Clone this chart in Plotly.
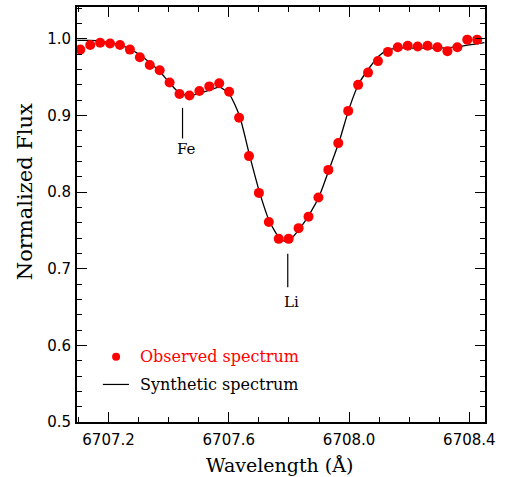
import plotly.graph_objects as go

# Observed spectrum (wavelength in Angstrom, normalized flux)
obs_wave = [6707.106, 6707.139, 6707.172, 6707.205, 6707.238, 6707.271, 6707.304,
            6707.337, 6707.370, 6707.403, 6707.436, 6707.469, 6707.502, 6707.535,
            6707.568, 6707.601, 6707.634, 6707.667, 6707.700, 6707.733, 6707.766,
            6707.799, 6707.832, 6707.865, 6707.898, 6707.931, 6707.964, 6707.997,
            6708.030, 6708.063, 6708.096, 6708.129, 6708.162, 6708.195, 6708.228,
            6708.261, 6708.294, 6708.327, 6708.360, 6708.393, 6708.426]
obs_flux = [0.986, 0.992, 0.995, 0.994, 0.992, 0.986, 0.976, 0.966, 0.959, 0.943,
            0.928, 0.926, 0.932, 0.938, 0.942, 0.931, 0.897, 0.847, 0.799, 0.761,
            0.739, 0.739, 0.753, 0.768, 0.793, 0.829, 0.864, 0.906, 0.940, 0.956,
            0.971, 0.983, 0.989, 0.991, 0.990, 0.991, 0.989, 0.984, 0.989, 0.999,
            0.999]

# Synthetic spectrum
syn_wave = [6707.096, 6707.139, 6707.172, 6707.205, 6707.238, 6707.271, 6707.304,
            6707.338, 6707.371, 6707.404, 6707.437, 6707.470, 6707.503, 6707.536,
            6707.570, 6707.603, 6707.636, 6707.669, 6707.702, 6707.735, 6707.768,
            6707.785, 6707.802, 6707.835, 6707.868, 6707.901, 6707.934, 6707.967,
            6708.000, 6708.033, 6708.067, 6708.100, 6708.133, 6708.166, 6708.232,
            6708.299, 6708.365, 6708.450]
syn_flux = [0.998, 0.998, 0.997, 0.995, 0.992, 0.987, 0.979, 0.969, 0.957, 0.942,
            0.929, 0.926, 0.929, 0.933, 0.937, 0.927, 0.899, 0.848, 0.800, 0.762,
            0.740, 0.736, 0.737, 0.752, 0.771, 0.795, 0.830, 0.866, 0.909, 0.942,
            0.962, 0.978, 0.986, 0.988, 0.988, 0.988, 0.990, 0.995]

# Line identifications
line_names = ["Fe", "Li"]
line_wave = [6707.446, 6707.796]

SERIF = "DejaVu Serif"
SANS = "DejaVu Sans"

fig = go.Figure()
fig.add_trace(go.Scatter(x=syn_wave, y=syn_flux, mode="lines",
                         line=dict(color="black", width=1.3, shape="spline", smoothing=0.6),
                         showlegend=False, hoverinfo="skip"))
fig.add_trace(go.Scatter(x=obs_wave, y=obs_flux, mode="markers",
                         marker=dict(color="#ff0000", size=10, line=dict(width=0)),
                         showlegend=False))

axis_common = dict(showline=True, linecolor="black", linewidth=2, mirror="allticks",
                   ticks="inside", ticklen=10, tickwidth=1.3, tickcolor="black",
                   showgrid=False, zeroline=False,
                   tickfont=dict(family=SANS, size=15, color="black"))

fig.update_xaxes(range=[6707.095, 6708.452], tick0=6707.2, dtick=0.4, tickformat=".1f",
                 ticklabelstandoff=3,
                 minor=dict(dtick=0.1, ticklen=5, ticks="inside", tickwidth=1.3, tickcolor="black"),
                 **axis_common)
fig.update_yaxes(range=[0.5, 1.0416], tick0=0.5, dtick=0.1, tickformat=".1f",
                 ticklabelstandoff=1,
                 minor=dict(dtick=0.02, ticklen=5, ticks="inside", tickwidth=1.3, tickcolor="black"),
                 **axis_common)

shapes = []
annotations = []
# line markers
shapes.append(dict(type="line", xref="x", yref="y", x0=line_wave[0], x1=line_wave[0],
                   y0=0.870, y1=0.910, line=dict(color="black", width=1.2)))
annotations.append(dict(x=line_wave[0] + 0.013, y=0.856, xref="x", yref="y", text=line_names[0],
                        showarrow=False, font=dict(family=SERIF, size=15, color="black")))
shapes.append(dict(type="line", xref="x", yref="y", x0=line_wave[1], x1=line_wave[1],
                   y0=0.676, y1=0.7195, line=dict(color="black", width=1.2)))
annotations.append(dict(x=line_wave[1] + 0.014, y=0.656, xref="x", yref="y", text=line_names[1],
                        showarrow=False, font=dict(family=SERIF, size=15, color="black")))

# legend
shapes.append(dict(type="circle", xref="x", yref="y", xsizemode="pixel", ysizemode="pixel",
                   xanchor=6707.225, yanchor=0.585, x0=-4, x1=4, y0=-4, y1=4,
                   fillcolor="#ff0000", line=dict(width=0)))
annotations.append(dict(x=6707.297, y=0.585, xref="x", yref="y", xanchor="left",
                        text="Observed spectrum", showarrow=False,
                        font=dict(family=SERIF, size=16, color="#ff0000")))
shapes.append(dict(type="line", xref="x", yref="y", x0=6707.181, x1=6707.268,
                   y0=0.549, y1=0.549, line=dict(color="black", width=1.2)))
annotations.append(dict(x=6707.297, y=0.549, xref="x", yref="y", xanchor="left",
                        text="Synthetic spectrum", showarrow=False,
                        font=dict(family=SERIF, size=16, color="black")))

# axis titles
annotations.append(dict(x=0.4975, y=-0.103, xref="paper", yref="paper", text="Wavelength (Å)",
                        xanchor="center", yanchor="middle",
                        showarrow=False, font=dict(family=SERIF, size=19, color="black")))
annotations.append(dict(x=-0.1275, y=0.556, xref="paper", yref="paper", text="Normalized Flux",
                        xanchor="center", yanchor="middle",
                        textangle=-90, showarrow=False,
                        font=dict(family=SERIF, size=21, color="black")))

fig.update_layout(width=508, height=477, margin=dict(l=77, r=23, t=5, b=55),
                  plot_bgcolor="white", paper_bgcolor="white",
                  shapes=shapes, annotations=annotations, showlegend=False)

fig.write_html("out.html", config={"displayModeBar": False},
               post_script="document.body.style.margin='0px';")
